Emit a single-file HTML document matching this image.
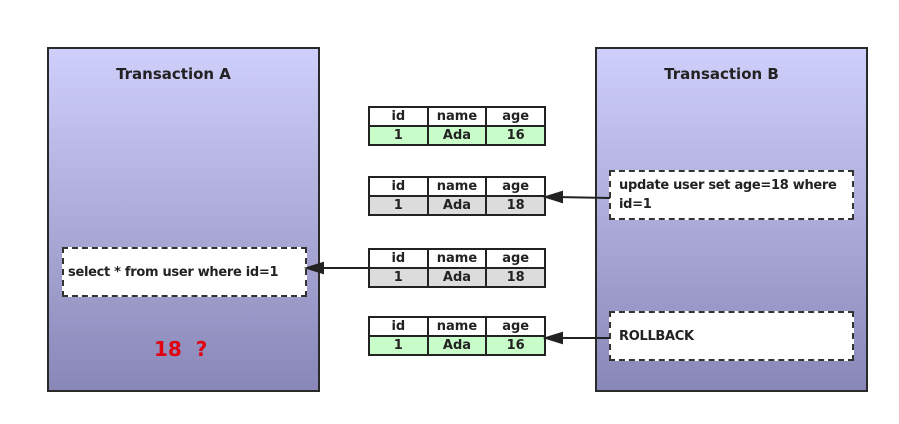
<!DOCTYPE html>
<html><head><style>
body{margin:0;width:899px;height:424px;background:#fff;position:relative;font-family:"DejaVu Sans","Liberation Sans",sans-serif;font-weight:bold;color:#222;overflow:hidden}
.tx{position:absolute;top:47px;width:273px;height:345px;border:2px solid #2a2a2a;box-sizing:border-box;background:linear-gradient(#cfcffb,#8987b7)}
.tt{position:absolute;top:65px;font-size:15px;width:273px;text-align:center}
.db{position:absolute;border:2px dashed #333;background:#fff;box-sizing:border-box;font-size:13px;letter-spacing:-0.3px;padding:0 6px 0 4px;display:flex;align-items:center;line-height:19px;white-space:nowrap}
table{position:absolute;left:368px;width:178px;table-layout:fixed;border-collapse:collapse;font-size:13px}
td{border:2px solid #222;height:17px;text-align:center;padding:0;line-height:17px}
.g td{background:#c8fcc8}.d td{background:#dcdcdc}
</style></head><body>
<div class="tx" style="left:47px"></div>
<div class="tx" style="left:595px"></div>
<div class="tt" style="left:37px">Transaction A</div>
<div class="tt" style="left:585px">Transaction B</div>
<div class="db" style="left:62px;top:247px;width:245px;height:50px">select * from user where id=1</div>
<div class="db" style="left:609px;top:170px;width:245px;height:50px;padding-left:8px">update user set age=18 where<br>id=1</div>
<div class="db" style="left:609px;top:311px;width:245px;height:50px;padding-left:8px">ROLLBACK</div>
<div style="position:absolute;left:154px;top:337px;color:#e00010;font-size:20px">18 &nbsp;?</div>
<table style="top:106px"><tr><td>id</td><td>name</td><td>age</td></tr><tr class="g"><td>1</td><td>Ada</td><td>16</td></tr></table>
<table style="top:176px"><tr><td>id</td><td>name</td><td>age</td></tr><tr class="d"><td>1</td><td>Ada</td><td>18</td></tr></table>
<table style="top:248px"><tr><td>id</td><td>name</td><td>age</td></tr><tr class="d"><td>1</td><td>Ada</td><td>18</td></tr></table>
<table style="top:316px"><tr><td>id</td><td>name</td><td>age</td></tr><tr class="g"><td>1</td><td>Ada</td><td>16</td></tr></table>
<svg width="899" height="424" style="position:absolute;left:0;top:0">
<g stroke="#222" stroke-width="2" fill="#222">
<line x1="610" y1="198" x2="556" y2="197"/><polygon points="546,197 562,192 562,202"/>
<line x1="368" y1="268" x2="318" y2="268"/><polygon points="307,268 323,263 323,273"/>
<line x1="610" y1="338" x2="556" y2="338"/><polygon points="546,338 562,333 562,343"/>
</g></svg>
</body></html>
